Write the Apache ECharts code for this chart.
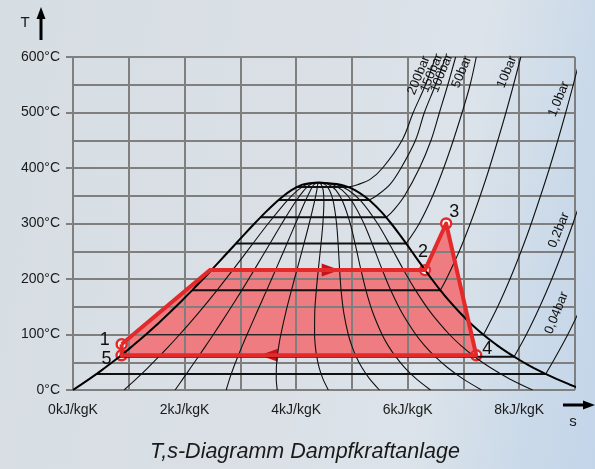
<!DOCTYPE html>
<html>
<head>
<meta charset="utf-8">
<script src="https://cdn.jsdelivr.net/npm/echarts@6/dist/echarts.min.js"></script>
<style>
  html, body { margin: 0; padding: 0; }
  #chart {
    width: 595px; height: 469px;
    background: linear-gradient(100deg, #d6dde3 0%, #dae0e6 50%, #dce3ea 72%, #cbdae9 88%, #c3d5e9 100%);
  }
</style>
</head>
<body>
<div id="chart"></div>
<script>
// Saturation line (Nassdampfgebiet): temperature °C, entropy kJ/kgK
const satT    = [0, 10, 20, 30, 40, 50, 60, 70, 80, 90, 100, 120, 140, 160, 180, 200, 220, 240, 260, 280, 300, 320, 340, 350, 360, 365, 370, 372.5, 373.95];
const sLiquid = [0.0000, 0.1511, 0.2965, 0.4368, 0.5724, 0.7038, 0.8313, 0.9551, 1.0756, 1.1929, 1.3072, 1.5279, 1.7392, 1.9426, 2.1392, 2.3305, 2.5177, 2.7020, 2.8849, 3.0683, 3.2552, 3.4494, 3.6601, 3.7784, 3.9167, 4.0030, 4.1112, 4.2400, 4.4070];
const sVapour = [9.1556, 8.8998, 8.6660, 8.4520, 8.2555, 8.0748, 7.9081, 7.7540, 7.6111, 7.4781, 7.3541, 7.1292, 6.9294, 6.7491, 6.5840, 6.4302, 6.2840, 6.1423, 6.0010, 5.8565, 5.7044, 5.5372, 5.3356, 5.2110, 5.0536, 4.9510, 4.7971, 4.5800, 4.4070];

// Lines of constant steam quality x = 0.1 ... 0.9
const qualityT = [0, 20, 40, 60, 80, 100, 140, 180, 220, 260, 300, 340, 360, 370, 373.95];
const q01 = [0.916, 1.134, 1.341, 1.539, 1.729, 1.912, 2.258, 2.584, 2.894, 3.196, 3.500, 3.828, 4.030, 4.180, 4.407];
const q02 = [1.831, 1.970, 2.109, 2.247, 2.383, 2.517, 2.777, 3.028, 3.271, 3.508, 3.745, 3.995, 4.144, 4.248, 4.407];
const q03 = [2.747, 2.807, 2.877, 2.954, 3.036, 3.121, 3.296, 3.473, 3.648, 3.820, 3.990, 4.163, 4.258, 4.317, 4.407];
const q04 = [3.662, 3.644, 3.646, 3.662, 3.690, 3.726, 3.815, 3.917, 4.024, 4.131, 4.235, 4.330, 4.372, 4.386, 4.407];
const q05 = [4.578, 4.481, 4.414, 4.370, 4.343, 4.331, 4.334, 4.362, 4.401, 4.443, 4.480, 4.498, 4.485, 4.454, 4.407];
const q06 = [5.493, 5.318, 5.182, 5.077, 4.997, 4.935, 4.853, 4.806, 4.778, 4.755, 4.725, 4.666, 4.599, 4.523, 4.407];
const q07 = [6.409, 6.155, 5.950, 5.785, 5.650, 5.540, 5.373, 5.251, 5.154, 5.066, 4.970, 4.833, 4.713, 4.591, 4.407];
const q08 = [7.324, 6.992, 6.719, 6.493, 6.304, 6.145, 5.892, 5.695, 5.531, 5.378, 5.215, 5.001, 4.826, 4.660, 4.407];
const q09 = [8.240, 7.829, 7.487, 7.200, 6.957, 6.749, 6.411, 6.140, 5.907, 5.690, 5.460, 5.168, 4.940, 4.729, 4.407];
const qualityLines = [q01, q02, q03, q04, q05, q06, q07, q08, q09];

// Isobars: saturation temperature, s' and s'' (wet region), then superheated part [s, T]
const isoNames = ['200bar', '150bar', '100bar', '50bar', '10bar', '1,0bar', '0,2bar', '0,04bar'];
const isoTsat  = [365.75, 342.16, 311.06, 263.99, 179.91, 99.63, 60.06, 28.96];
const isoSliq  = [4.0146, 3.6848, 3.3596, 2.9202, 2.1386, 1.3026, 0.8320, 0.4226];
const isoSvap  = [4.9269, 5.3098, 5.6159, 5.9734, 6.5863, 7.3594, 7.9085, 8.4746];
const sup200 = [[4.9269, 365.75], [5.10, 370], [5.32, 379], [5.55, 400], [5.90, 450], [6.10, 500], [6.32, 550], [6.50, 600]];
const sup150 = [[5.3098, 342.16], [5.4421, 350], [5.68, 370], [5.8811, 400], [6.1404, 450], [6.30, 500], [6.50, 550], [6.68, 600]];
const sup100 = [[5.6159, 311.06], [5.7568, 325], [5.9443, 350], [6.2120, 400], [6.4190, 450], [6.57, 500], [6.72, 550], [6.86, 600]];
const sup50  = [[5.9734, 263.99], [6.2084, 300], [6.4493, 350], [6.6459, 400], [6.8186, 450], [6.9759, 500], [7.12, 550], [7.23, 600]];
const sup10  = [[6.5863, 179.91], [6.6939, 200], [6.9246, 250], [7.1228, 300], [7.3010, 350], [7.4650, 400], [7.7621, 500], [8.0290, 600]];
const sup1   = [[7.3594, 99.63], [7.6134, 150], [7.8343, 200], [8.0333, 250], [8.2158, 300], [8.5435, 400], [8.8342, 500], [9.0976, 600]];
const sup02  = [[7.9085, 60.06], [8.128, 100], [8.368, 150], [8.584, 200], [8.780, 250], [8.963, 300], [9.13, 350]];
const sup004 = [[8.4746, 28.96], [8.598, 50], [8.871, 100], [9.111, 150]];
const superheated = [sup200, sup150, sup100, sup50, sup10, sup1, sup02, sup004];
// where the isobar names sit [s, T]
const isoLabelS = [6.20, 6.43, 6.61, 6.97, 7.78, 8.71, 8.71, 8.67];
const isoLabelT = [567, 571, 571, 573, 573, 524, 288, 139];

// Clausius-Rankine cycle
const stateNames = ['1', '2', '3', '4', '5'];
const stateS = [0.872, 6.31, 6.69, 7.23, 0.87];
const stateT = [82.5, 216, 300, 62.5, 62.5];
const cornerS = 2.455, cornerT = 216;   // start of evaporation (no number)
const arrowS = [4.62, 3.51];
const arrowT = [216, 62.5];

// tick labels
const sTickUnit = 'kJ/kgK';
const tTickUnit = '°C';
const chartTitle = 'T,s-Diagramm Dampfkraftanlage';

const FONT = '"Liberation Sans", Arial, sans-serif';
const GRID_COL = '#7f7f7f';
const RED = '#e3292a';

let chartDom = document.getElementById('chart');
let myChart = echarts.init(chartDom, null, { renderer: 'canvas' });

const cycle = [
  [stateS[0], stateT[0]], [cornerS, cornerT], [stateS[1], stateT[1]],
  [stateS[2], stateT[2]], [stateS[3], stateT[3]], [stateS[4], stateT[4]],
  [stateS[0], stateT[0]]
];

const dome = satT.map((t, i) => [sLiquid[i], t])
  .concat(satT.map((t, i) => [sVapour[i], t]).reverse());

const labelOffsets = [[-17, -4], [-2, -18], [8, -11], [11, -6], [-15, 4]];

let series = [];

// filled cycle area, below the grid
series.push({
  type: 'custom',
  z: -1,
  silent: true,
  data: [0],
  renderItem: function (params, api) {
    return {
      type: 'polygon',
      shape: { points: cycle.map(p => api.coord(p)) },
      style: { fill: '#ef7c80' }
    };
  }
});

qualityLines.forEach(q => {
  series.push({
    type: 'line', symbol: 'none', silent: true, smooth: 0.3,
    lineStyle: { color: '#111', width: 1.1 },
    data: qualityT.map((t, i) => [q[i], t])
  });
});

isoNames.forEach((n, i) => {
  series.push({
    type: 'line', symbol: 'none', silent: true,
    lineStyle: { color: '#111', width: i === 5 ? 1 : 2 },
    data: [[isoSliq[i], isoTsat[i]], [isoSvap[i], isoTsat[i]]]
  });
  series.push({
    type: 'line', symbol: 'none', silent: true, smooth: 0.35,
    lineStyle: { color: '#111', width: 1.1 },
    data: superheated[i]
  });
});

series.push({
  type: 'line', symbol: 'none', silent: true, smooth: 0.15,
  lineStyle: { color: '#000', width: 2 },
  data: dome
});

series.push({
  type: 'scatter', silent: true, symbolSize: 0,
  itemStyle: { opacity: 1 },
  label: {
    show: true, position: 'inside', formatter: '{b}', rotate: 68,
    fontSize: 13, fontFamily: FONT, color: '#111'
  },
  data: isoNames.map((n, i) => ({ name: n, value: [isoLabelS[i], isoLabelT[i]] }))
});

series.push({
  type: 'line', symbol: 'none', silent: true,
  lineStyle: { color: RED, width: 4, join: 'round' },
  data: cycle
});

series.push({
  type: 'scatter', silent: true, symbol: 'triangle', symbolSize: [13, 18],
  itemStyle: { color: '#c3161c', opacity: 1 },
  data: [
    { value: [arrowS[0], arrowT[0]], symbolRotate: -90 },
    { value: [arrowS[1], arrowT[1]], symbolRotate: 90 }
  ]
});

series.push({
  type: 'scatter', silent: true, symbol: 'circle', symbolSize: 10,
  itemStyle: { color: '#fff', borderColor: RED, borderWidth: 2.4, opacity: 1 },
  label: { show: true, position: 'inside', formatter: '{b}', fontSize: 18, fontFamily: FONT, color: '#111' },
  data: stateNames.map((n, i) => ({
    name: n, value: [stateS[i], stateT[i]],
    label: { offset: labelOffsets[i] }
  }))
});

let option = {
  animation: false,
  backgroundColor: 'transparent',
  grid: { left: 73, right: 20, top: 57, bottom: 79 },
  xAxis: {
    type: 'value', min: 0, max: 9, interval: 1,
    axisLine: { show: false },
    axisTick: { show: false },
    axisLabel: {
      margin: 13, fontSize: 14, fontFamily: FONT, color: '#1a1a1a',
      formatter: v => (v % 2 === 0 ? v + sTickUnit : '')
    },
    splitLine: { show: true, lineStyle: { color: GRID_COL, width: 2 } }
  },
  yAxis: {
    type: 'value', min: 0, max: 600, interval: 100,
    axisLine: { show: false },
    axisTick: { show: true, length: 7, lineStyle: { color: GRID_COL, width: 2 } },
    axisLabel: {
      margin: 13, fontSize: 14, fontFamily: FONT, color: '#1a1a1a',
      formatter: v => v + tTickUnit
    },
    splitLine: { show: true, lineStyle: { color: GRID_COL, width: 2 } },
    minorTick: { show: false, splitNumber: 2 },
    minorSplitLine: { show: true, lineStyle: { color: GRID_COL, width: 2 } }
  },
  graphic: [
    // T axis arrow
    { type: 'line', shape: { x1: 41, y1: 40, x2: 41, y2: 16 }, style: { stroke: '#000', lineWidth: 3 } },
    { type: 'polygon', shape: { points: [[41, 7], [36.5, 19], [45.5, 19]] }, style: { fill: '#000' } },
    { type: 'text', style: { x: 25, y: 23, text: 'T', fontSize: 15, fontFamily: FONT, fill: '#1a1a1a', align: 'center', verticalAlign: 'middle' } },
    // s axis arrow
    { type: 'line', shape: { x1: 563, y1: 405, x2: 585, y2: 405 }, style: { stroke: '#000', lineWidth: 3 } },
    { type: 'polygon', shape: { points: [[595, 405], [583, 400.5], [583, 409.5]] }, style: { fill: '#000' } },
    { type: 'text', style: { x: 573, y: 422, text: 's', fontSize: 15, fontFamily: FONT, fill: '#1a1a1a', align: 'center', verticalAlign: 'middle' } },
    // title
    { type: 'text', style: { x: 305, y: 452, text: chartTitle, fontSize: 21.5, fontStyle: 'italic', fontFamily: FONT, fill: '#1a1a1a', align: 'center', verticalAlign: 'middle' } }
  ],
  series: series
};

option && myChart.setOption(option);
</script>
</body>
</html>
